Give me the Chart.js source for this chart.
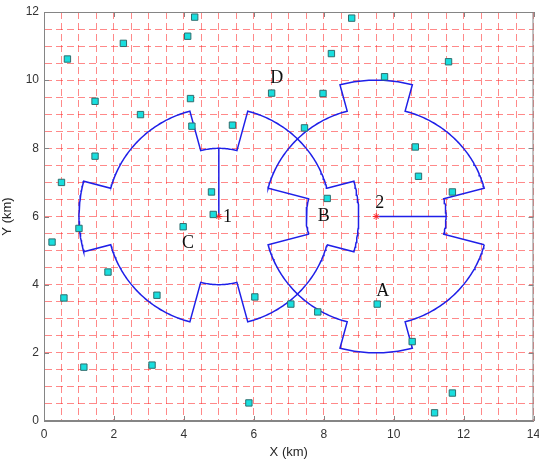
<!DOCTYPE html>
<html>
<head>
<meta charset="utf-8">
<script src="https://cdn.jsdelivr.net/npm/chart.js@4.4.1/dist/chart.umd.min.js"></script>
<style>
  body { margin: 0; background: #fff; }
  canvas { display: block; }
</style>
</head>
<body>
<canvas id="chart" width="539" height="462"></canvas>
<script>
// Sensor nodes (km)
const nodeX = [0.67, 2.27, 4.31, 4.11, 1.46, 2.76, 4.19, 4.23, 5.39, 6.51,
  8.22, 8.8, 7.98, 9.74, 11.57, 7.45, 10.62, 10.71, 11.68, 8.1,
  4.79, 4.84, 3.98, 1.46, 0.5, 1.0, 0.23, 0.57, 1.83, 3.23,
  1.14, 3.09, 6.03, 7.06, 7.83, 9.53, 10.53, 11.68, 11.17, 5.86];
const nodeY = [10.62, 11.08, 11.85, 11.29, 9.38, 8.99, 9.46, 8.65, 8.68, 9.62,
  10.78, 11.82, 9.61, 10.1, 10.54, 8.6, 8.04, 7.18, 6.72, 6.53,
  6.72, 6.06, 5.7, 7.77, 7.0, 5.65, 5.25, 3.61, 4.37, 3.69,
  1.58, 1.64, 3.64, 3.43, 3.2, 3.43, 2.33, 0.82, 0.24, 0.53];

// Gear centers (1, 2) and the end of each gear's arm
const centerX = [5, 9.5];
const centerY = [6, 6];
const armEndX = [5, 11.5];
const armEndY = [8, 6];

// Gear geometry: radii (km) and directions (deg) of teeth / notches
const notchRadius = 2.0;
const baseRadius = 3.2;
const toothRadius = 4.0;
const halfWidth = 15;
const toothDirs = [[0, 180], [90, 270]];
const notchDirs = [[90, 270], [0, 180]];

// Point labels
const labelText = ["1", "2", "A", "B", "C", "D"];
const labelX = [5.25, 9.6, 9.69, 8.0, 4.12, 6.66];
const labelY = [5.97, 6.38, 3.81, 6.01, 5.21, 10.06];

// Axis tick labels
const xTickLabels = [0, 2, 4, 6, 8, 10, 12, 14];
const yTickLabels = [0, 2, 4, 6, 8, 10, 12];

function gearOutline(cx, cy, teeth, notches) {
  const feats = teeth.map((d) => [d, toothRadius])
    .concat(notches.map((d) => [d, notchRadius]))
    .sort((a, b) => a[0] - b[0]);
  const pts = [];
  const at = (deg, r) => {
    const a = (deg * Math.PI) / 180;
    pts.push({ x: cx + r * Math.cos(a), y: cy + r * Math.sin(a) });
  };
  feats.forEach(([d, r], i) => {
    at(d - halfWidth, baseRadius);
    for (let a = d - halfWidth; a <= d + halfWidth; a += 1) at(a, r);
    at(d + halfWidth, baseRadius);
    const next = i + 1 < feats.length ? feats[i + 1][0] - halfWidth : feats[0][0] + 360 - halfWidth;
    for (let a = d + halfWidth + 1; a < next; a += 1) at(a, baseRadius);
  });
  pts.push(pts[0]);
  return pts;
}

const blue = "#1f1fe8";
const lineSet = (data) => ({
  data: data,
  showLine: true,
  borderColor: blue,
  borderWidth: 1.5,
  pointRadius: 0,
  tension: 0,
});

const datasets = [
  {
    data: nodeX.map((x, i) => ({ x: x, y: nodeY[i] })),
    pointStyle: "rect",
    pointRadius: 4.5,
    backgroundColor: "#19dede",
    borderColor: "#2f6e6e",
    borderWidth: 1,
  },
  {
    data: centerX.map((x, i) => ({ x: x, y: centerY[i] })),
    pointStyle: "star",
    pointRadius: 3.5,
    borderColor: "#ff2020",
    borderWidth: 1,
  },
];
centerX.forEach((cx, i) => {
  datasets.push(lineSet(gearOutline(cx, centerY[i], toothDirs[i], notchDirs[i])));
  datasets.push(lineSet([{ x: cx, y: centerY[i] }, { x: armEndX[i], y: armEndY[i] }]));
});

// Box, inward ticks and text labels
const frame = {
  id: "frame",
  afterDatasetsDraw(chart) {
    const { ctx, scales: { x, y } } = chart;
    ctx.save();
    ctx.font = '18px "Liberation Serif", "Times New Roman", serif';
    ctx.fillStyle = "#111";
    ctx.textAlign = "center";
    ctx.textBaseline = "middle";
    labelText.forEach((t, i) => {
      ctx.fillText(t, x.getPixelForValue(labelX[i]), y.getPixelForValue(labelY[i]));
    });
    ctx.restore();
  },
  afterDraw(chart) {
    const { ctx, chartArea: a, scales: { x, y } } = chart;
    ctx.save();
    ctx.strokeStyle = "#858585";
    ctx.lineWidth = 1;
    ctx.strokeRect(a.left + 0.5, a.top + 0.5, a.width - 1, a.height - 1);
    ctx.beginPath();
    xTickLabels.forEach((v) => {
      const px = Math.round(x.getPixelForValue(v)) + 0.5;
      ctx.moveTo(px, a.bottom); ctx.lineTo(px, a.bottom - 5);
      ctx.moveTo(px, a.top); ctx.lineTo(px, a.top + 5);
    });
    yTickLabels.forEach((v) => {
      const py = Math.round(y.getPixelForValue(v)) + 0.5;
      ctx.moveTo(a.left, py); ctx.lineTo(a.left + 5, py);
      ctx.moveTo(a.right, py); ctx.lineTo(a.right - 5, py);
    });
    ctx.stroke();
    ctx.restore();
  },
};

const tickFont = { family: '"Liberation Sans", Arial, sans-serif', size: 12 };
const titleFont = { family: '"Liberation Sans", Arial, sans-serif', size: 13 };
const gridStyle = { color: "rgba(255, 40, 40, 0.55)", lineWidth: 1, drawTicks: false };

new Chart(document.getElementById("chart"), {
  type: "scatter",
  data: { datasets: datasets },
  plugins: [frame],
  options: {
    responsive: false,
    animation: false,
    layout: { padding: { top: 12, right: 5, left: 0, bottom: 0 } },
    plugins: { legend: { display: false }, tooltip: { enabled: false } },
    scales: {
      x: {
        type: "linear",
        min: 0,
        max: 14,
        ticks: {
          stepSize: 0.5,
          autoSkip: false,
          maxRotation: 0,
          padding: 6,
          color: "#333",
          font: tickFont,
          callback: (v) => (xTickLabels.includes(v) ? String(v) : ""),
        },
        grid: gridStyle,
        border: { display: true, color: "#858585", dash: [7, 4] },
        title: { display: true, text: "X (km)", color: "#262626", font: titleFont, padding: { top: 0, bottom: 2 } },
        afterFit: (s) => { s.height = 41; s.paddingLeft = 0; s.paddingRight = 0; },
      },
      y: {
        type: "linear",
        min: 0,
        max: 12,
        ticks: {
          stepSize: 0.5,
          autoSkip: false,
          padding: 5,
          color: "#333",
          font: tickFont,
          callback: (v) => (yTickLabels.includes(v) ? String(v) : ""),
        },
        grid: gridStyle,
        border: { display: true, color: "#858585", dash: [7, 4] },
        title: { display: true, text: "Y (km)", color: "#262626", font: titleFont, padding: { top: 0, bottom: 0 } },
        afterFit: (s) => { s.width = 44; s.paddingTop = 0; s.paddingBottom = 0; },
      },
    },
  },
});
</script>
</body>
</html>
